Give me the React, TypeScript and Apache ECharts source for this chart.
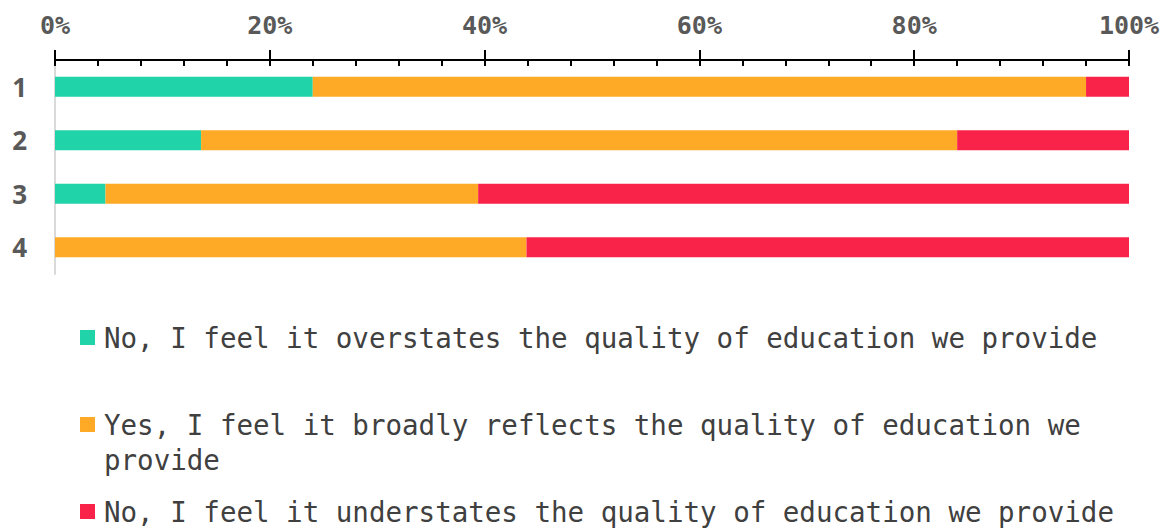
import React, { useEffect, useRef } from "react";
import * as echarts from "echarts";

const categories = ["1", "2", "3", "4"];
const seriesNames = [
  "No, I feel it overstates the quality of education we provide",
  "Yes, I feel it broadly reflects the quality of education we provide",
  "No, I feel it understates the quality of education we provide",
];
const overstates = [24.0, 13.6, 4.7, 0];
const reflects = [72.0, 70.4, 34.7, 43.9];
const understates = [4.0, 16.0, 60.6, 56.1];
const colors = ["#20D3A8", "#FEAA27", "#F9234A"];
const xTicks = [0, 20, 40, 60, 80, 100];

const MONO = "'DejaVu Sans Mono', monospace";

export default function App() {
  const ref = useRef<HTMLDivElement>(null);
  useEffect(() => {
    if (!ref.current) return;
    const chart = echarts.init(ref.current, null, { renderer: "svg" });
    const values = [overstates, reflects, understates];
    const legendText = {
      fontFamily: MONO,
      fontSize: 27.5,
      color: "#404040",
      lineHeight: 35,
      padding: [0, 0, 0, 4],
    };
    const legendTops = [320, 372, 494];
    chart.setOption({
      animation: false,
      backgroundColor: "#ffffff",
      grid: { left: 55, right: 47, top: 60, bottom: 255, containLabel: false },
      xAxis: [
        {
          type: "value",
          position: "top",
          min: xTicks[0],
          max: xTicks[xTicks.length - 1],
          interval: 20,
          axisLine: { show: true, lineStyle: { color: "#000", width: 2 } },
          axisTick: { show: true, inside: false, length: 10, lineStyle: { color: "#000", width: 2 } },
          axisLabel: {
            formatter: "{value}%",
            fontFamily: MONO,
            fontWeight: "bold",
            fontSize: 25,
            color: "#595959",
            margin: 22,
          },
          splitLine: { show: false },
        },
        {
          type: "value",
          position: "top",
          min: 0,
          max: 100,
          interval: 4,
          axisLine: { show: false },
          axisTick: { show: true, inside: true, length: 6, lineStyle: { color: "#000", width: 2 } },
          axisLabel: { show: false },
          splitLine: { show: false },
        },
      ],
      yAxis: {
        type: "category",
        inverse: true,
        data: categories,
        axisLine: { show: true, lineStyle: { color: "#d9d9d9", width: 2 } },
        axisTick: { show: false },
        axisLabel: {
          fontFamily: "'Open Sans', sans-serif",
          fontWeight: "bold",
          fontSize: 26,
          color: "#595959",
          margin: 28,
        },
      },
      legend: seriesNames.map((name, i) => ({
        orient: "horizontal",
        left: 80,
        top: legendTops[i],
        padding: 0,
        itemWidth: 15,
        itemHeight: 15,
        icon: "rect",
        data: [name],
        selectedMode: false,
        formatter:
          i === 1
            ? () => "\nYes, I feel it broadly reflects the quality of education we\nprovide"
            : "{name}",
        textStyle: legendText,
      })),
      series: seriesNames.map((name, i) => ({
        name,
        type: "bar",
        stack: "total",
        xAxisIndex: 0,
        barWidth: 20,
        itemStyle: { color: colors[i] },
        data: values[i],
      })),
    });
    return () => chart.dispose();
  }, []);
  return (
    <div
      ref={ref}
      style={{ position: "fixed", left: 0, top: 0, width: 1176, height: 529 }}
    />
  );
}
